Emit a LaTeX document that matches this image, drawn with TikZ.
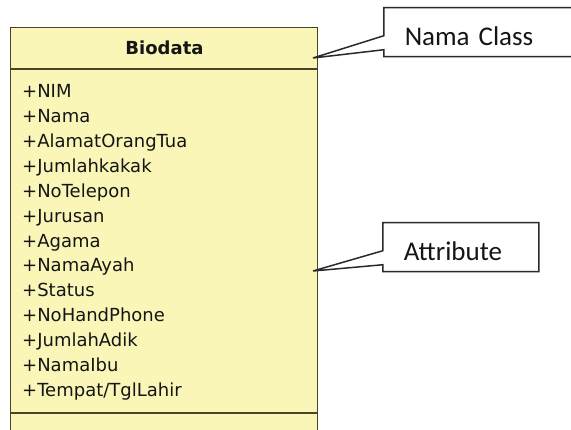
\documentclass[tikz,border=0pt]{standalone}
\usepackage{fontspec}
\setmainfont{DejaVu Sans}
\newfontfamily\calloutfont{Carlito}
\usetikzlibrary{shapes.callouts}
\definecolor{clsfill}{HTML}{FAF6B8}
\definecolor{clsline}{HTML}{4A4326}
\definecolor{txt}{HTML}{151515}
\definecolor{calline}{HTML}{2A2A2A}
\tikzset{
  classbox/.style={draw=clsline, line width=1.3pt, fill=clsfill, rectangle, inner sep=0pt, anchor=north west},
  sepline/.style={draw=clsline, line width=1.7pt},
  attr/.style={anchor=base west, inner sep=0pt, text=txt, font=\fontsize{18pt}{20pt}\selectfont},
  title/.style={anchor=base, inner sep=0pt, text=txt, font=\fontsize{18pt}{20pt}\selectfont\bfseries},
  note/.style={rectangle callout, draw=calline, line width=1.5pt, fill=white, text=txt,
    font=\calloutfont\fontsize{27pt}{30pt}\selectfont, inner xsep=21pt, inner ysep=0pt,
    text height=38pt, text depth=11pt, align=left, callout pointer width=14pt, anchor=north west}
}
\begin{document}
\begin{tikzpicture}[x=1pt,y=-1pt]
\clip (0,0) rectangle (571,430);
\fill[white] (0,0) rectangle (571,430);
% class box
\node[classbox, minimum width=307pt, minimum height=420pt] (cls) at (10,27) {};
\coordinate (s1) at (0,69);
\coordinate (s2) at (0,413);
\draw[sepline] (cls.west |- s1) -- (cls.east |- s1);
\draw[sepline] (cls.west |- s2) -- (cls.east |- s2);
\node[title] (ttl) at (164.5,54.3) {Biodata};
% attributes
\foreach \t [count=\i from 0] in {+NIM,+Nama,+AlamatOrangTua,+Jumlahkakak,+NoTelepon,+Jurusan,+Agama,+NamaAyah,+Status,+NoHandPhone,+JumlahAdik,+NamaIbu,+Tempat/TglLahir}{
  \node[attr] (a\i) at (22,97.5+\i*24.92) {\t};
}
% callouts
\coordinate (tipN) at (313,58);
\coordinate (tipA) at (313,271);
\node[note, text width=180pt, callout absolute pointer={(tipN)}] (nama) at (383,7) {Nama Class};
\node[note, text width=114pt, callout absolute pointer={(tipA)}] (atr) at (382,222) {Attribute};
\end{tikzpicture}
\end{document}
